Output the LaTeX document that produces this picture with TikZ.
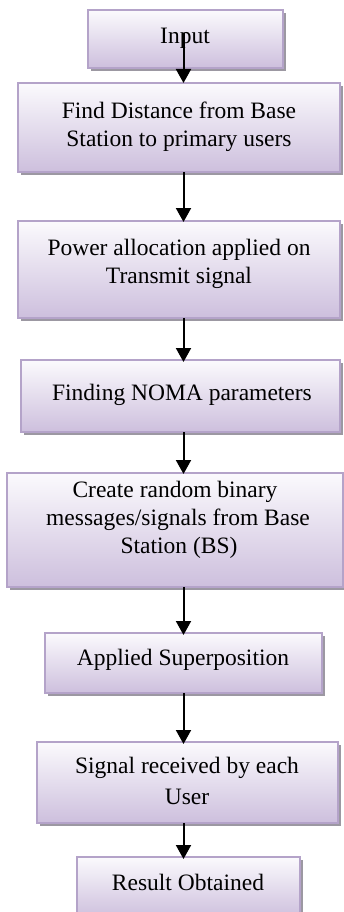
\documentclass[tikz,border=0pt]{standalone}
\usepackage{fontspec}
\setmainfont{Liberation Serif}
\usetikzlibrary{arrows.meta,shadows}
\definecolor{boxline}{HTML}{B4A3C9}
\definecolor{boxtop}{HTML}{FBFAFD}
\definecolor{boxbot}{HTML}{CDBFDD}
\definecolor{shadowgrey}{HTML}{9C98A2}
\tikzset{
  flowbox/.style={draw=boxline, line width=1.6pt, top color=boxtop, bottom color=boxbot,
    drop shadow={shadow xshift=3pt, shadow yshift=-3pt, fill=shadowgrey, opacity=1},
    inner sep=0pt, outer sep=0pt},
  boxtext/.style={font=\fontsize{23.5}{28}\selectfont, align=center, inner sep=0pt, anchor=base},
  flowarrow/.style={line width=2pt, -{Triangle[length=14pt,width=15pt]}}
}
\newcommand{\flowbox}[5]{%
  \path[flowbox] (#2,#3) rectangle (#4,#5);
  \node[inner sep=0pt, outer sep=0pt, minimum width={(#4-#2)*1pt}, minimum height={(#5-#3)*1pt}] (#1) at ({(#2+#4)/2},{(#3+#5)/2}) {};}
\begin{document}
\begin{tikzpicture}[x=1pt,y=-1pt]
\useasboundingbox (0,0) rectangle (344,912);
\begin{scope}
\clip (0,0) rectangle (344,912);
\flowbox{b1}{88}{10}{283}{68}
\flowbox{b2}{18}{83}{340}{172}
\flowbox{b3}{18}{221}{340}{318}
\flowbox{b4}{21}{360}{340}{432}
\flowbox{b5}{7}{473}{343}{587}
\flowbox{b6}{45}{633}{322}{693}
\flowbox{b7}{37}{742}{338}{823}
\flowbox{b8}{77}{857}{300}{918}
\end{scope}
\node[boxtext] (t1) at (185,44) {Input};
\node[boxtext] (t2a) at (179,119) {Find Distance from Base};
\node[boxtext] (t2b) at (179,147) {Station to primary users};
\node[boxtext] (t3a) at (179,255) {Power allocation applied on};
\node[boxtext] (t3b) at (179,283) {Transmit signal};
\node[boxtext] (t4) at (182,400) {Finding NOMA parameters};
\node[boxtext] (t5a) at (175,497) {Create random binary};
\node[boxtext] (t5b) at (178,525) {messages/signals from Base};
\node[boxtext] (t5c) at (179,553) {Station (BS)};
\node[boxtext] (t6) at (183,665) {Applied Superposition};
\node[boxtext] (t7a) at (187,773) {Signal received by each};
\node[boxtext] (t7b) at (187,804) {User};
\node[boxtext] (t8) at (188,890) {Result Obtained};
\coordinate (ax) at (183.5,33);
\draw[flowarrow] (ax) -- (b2.north -| ax);
\draw[flowarrow] (b2.south -| ax) -- ([yshift=-1pt]b3.north -| ax);
\draw[flowarrow] (b3.south -| ax) -- ([yshift=-2pt]b4.north -| ax);
\draw[flowarrow] (b4.south -| ax) -- ([yshift=-1pt]b5.north -| ax);
\draw[flowarrow] (b5.south -| ax) -- ([yshift=-2pt]b6.north -| ax);
\draw[flowarrow] (b6.south -| ax) -- ([yshift=-2pt]b7.north -| ax);
\draw[flowarrow] (b7.south -| ax) -- ([yshift=-2pt]b8.north -| ax);
\end{tikzpicture}
\end{document}
